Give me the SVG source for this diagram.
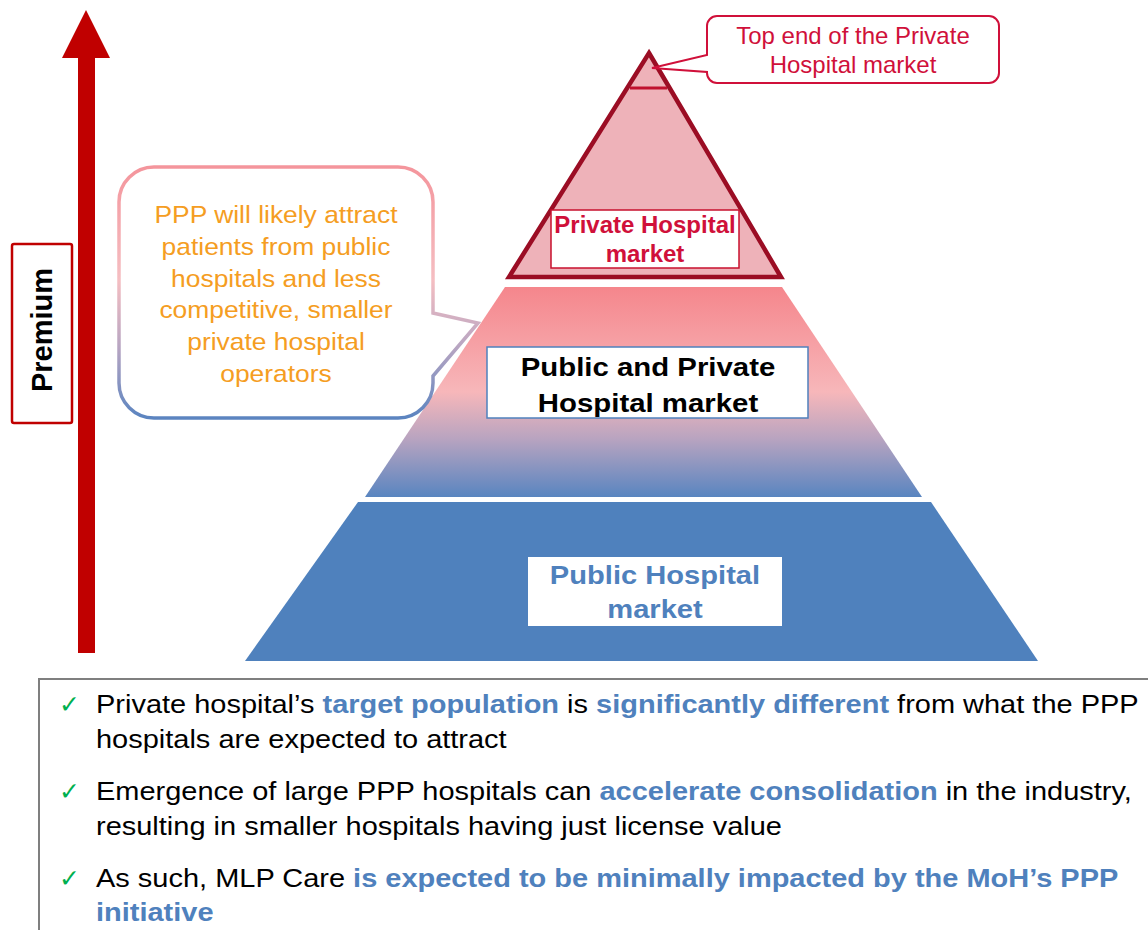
<svg xmlns="http://www.w3.org/2000/svg" width="1148" height="930" viewBox="0 0 1148 930">
  <defs>
    <linearGradient id="midGrad" gradientUnits="userSpaceOnUse" x1="0" y1="287" x2="0" y2="497">
      <stop offset="0" stop-color="#F5868C"/>
      <stop offset="0.5" stop-color="#F7B7BA"/>
      <stop offset="0.72" stop-color="#B9A4C0"/>
      <stop offset="1" stop-color="#5985C0"/>
    </linearGradient>
    <linearGradient id="calloutGrad" gradientUnits="userSpaceOnUse" x1="0" y1="167" x2="0" y2="418">
      <stop offset="0" stop-color="#F4959C"/>
      <stop offset="0.45" stop-color="#F5BEC2"/>
      <stop offset="0.72" stop-color="#B7A5C2"/>
      <stop offset="1" stop-color="#5B84C0"/>
    </linearGradient>
    <style>
      text { font-family: "Liberation Sans", Arial, sans-serif; }
      .bold { font-weight: bold; }
      .box { fill: #FFFFFF; }
      .crimson { fill: #D0103A; }
      .blue { fill: #4F81BD; font-weight: bold; }
      .body { font-size: 26px; fill: #000000; }
      .check { font-family: "DejaVu Sans", sans-serif; font-size: 25px; fill: #00B050; }
    </style>
  </defs>

  <!-- Premium arrow -->
  <g id="premium-arrow">
    <rect x="78" y="56" width="17" height="597" fill="#C00000"/>
    <polygon points="86,10 110,58 62,58" fill="#C00000"/>
  </g>
  <g id="premium-label">
    <rect x="12" y="244" width="60" height="179" rx="2" fill="#FFFFFF" stroke="#C00000" stroke-width="2.5"/>
    <text transform="translate(52,330) rotate(-90)" text-anchor="middle" class="bold" font-size="29" fill="#000000">Premium</text>
  </g>

  <!-- Pyramid bottom tier -->
  <g id="public-tier">
    <polygon points="358,502 931,502 1038,661 245,661" fill="#4F81BD"/>
    <rect x="528" y="557" width="254" height="69" class="box"/>
    <text transform="translate(655,584) scale(1.12,1)" text-anchor="middle" class="blue" font-size="26">Public Hospital</text>
    <text transform="translate(655,618) scale(1.12,1)" text-anchor="middle" class="blue" font-size="26">market</text>
  </g>

  <!-- Pyramid middle tier -->
  <g id="mixed-tier">
    <polygon points="505,287 782,287 922,497 365,497" fill="url(#midGrad)"/>
    <rect x="487" y="347" width="321" height="71" class="box" stroke="#4F81BD" stroke-width="1.5"/>
    <text transform="translate(648,376) scale(1.13,1)" text-anchor="middle" class="bold" font-size="26" fill="#000000">Public and Private</text>
    <text transform="translate(648,412) scale(1.13,1)" text-anchor="middle" class="bold" font-size="26" fill="#000000">Hospital market</text>
  </g>

  <!-- Pyramid top tier -->
  <g id="private-tier">
    <polygon points="649,53 781,277 509,277" fill="#EEB2B9" stroke="#9B0D24" stroke-width="4.5" stroke-linejoin="miter"/>
    <line x1="630" y1="88" x2="667" y2="88" stroke="#C0102E" stroke-width="3"/>
    <rect x="551" y="210" width="188" height="58" class="box" stroke="#C8102E" stroke-width="1.5"/>
    <text x="645" y="233" text-anchor="middle" class="bold crimson" font-size="24">Private Hospital</text>
    <text x="645" y="262" text-anchor="middle" class="bold crimson" font-size="24">market</text>
  </g>

  <!-- Callouts -->
  <g id="callout-top">
    <path d="M717,16 H989 A10,10 0 0 1 999,26 V73 A10,10 0 0 1 989,83 H717 A10,10 0 0 1 707,73 V72 L652,68 L707,55 V26 A10,10 0 0 1 717,16 Z" fill="#FFFFFF" stroke="#D0103A" stroke-width="2"/>
    <text x="853" y="44" text-anchor="middle" class="crimson" font-size="24">Top end of the Private</text>
    <text x="853" y="73" text-anchor="middle" class="crimson" font-size="24">Hospital market</text>
  </g>

  <g id="callout-ppp">
    <path d="M154,167 H398 A35,35 0 0 1 433,202 V313 L478,323 L433,376 V383 A35,35 0 0 1 398,418 H154 A35,35 0 0 1 119,383 V202 A35,35 0 0 1 154,167 Z" fill="#FFFFFF" stroke="url(#calloutGrad)" stroke-width="3.5"/>
    <g fill="#F59D22" font-size="24" text-anchor="middle">
      <text transform="translate(276,223) scale(1.1,1)">PPP will likely attract</text>
      <text transform="translate(276,255) scale(1.1,1)">patients from public</text>
      <text transform="translate(276,287) scale(1.1,1)">hospitals and less</text>
      <text transform="translate(276,318) scale(1.1,1)">competitive, smaller</text>
      <text transform="translate(276,350) scale(1.1,1)">private hospital</text>
      <text transform="translate(276,382) scale(1.1,1)">operators</text>
    </g>
  </g>

  <!-- Bottom findings box -->
  <g id="findings">
    <rect x="39" y="679" width="1200" height="300" fill="none" stroke="#7F7F7F" stroke-width="2"/>
    <text x="59" y="713" class="check">✓</text>
    <text x="59" y="800" class="check">✓</text>
    <text x="59" y="887" class="check">✓</text>
    <text transform="translate(96,713) scale(1.115,1)" class="body">Private hospital’s <tspan class="blue">target population</tspan> is <tspan class="blue">significantly different</tspan> from what the PPP</text>
    <text transform="translate(96,748) scale(1.115,1)" class="body">hospitals are expected to attract</text>
    <text transform="translate(96,800) scale(1.115,1)" class="body">Emergence of large PPP hospitals can <tspan class="blue">accelerate consolidation</tspan> in the industry,</text>
    <text transform="translate(96,835) scale(1.115,1)" class="body">resulting in smaller hospitals having just license value</text>
    <text transform="translate(96,887) scale(1.115,1)" class="body">As such, MLP Care <tspan class="blue">is expected to be minimally impacted by the MoH’s PPP</tspan></text>
    <text transform="translate(96,921) scale(1.115,1)" class="body"><tspan class="blue">initiative</tspan></text>
  </g>
</svg>
